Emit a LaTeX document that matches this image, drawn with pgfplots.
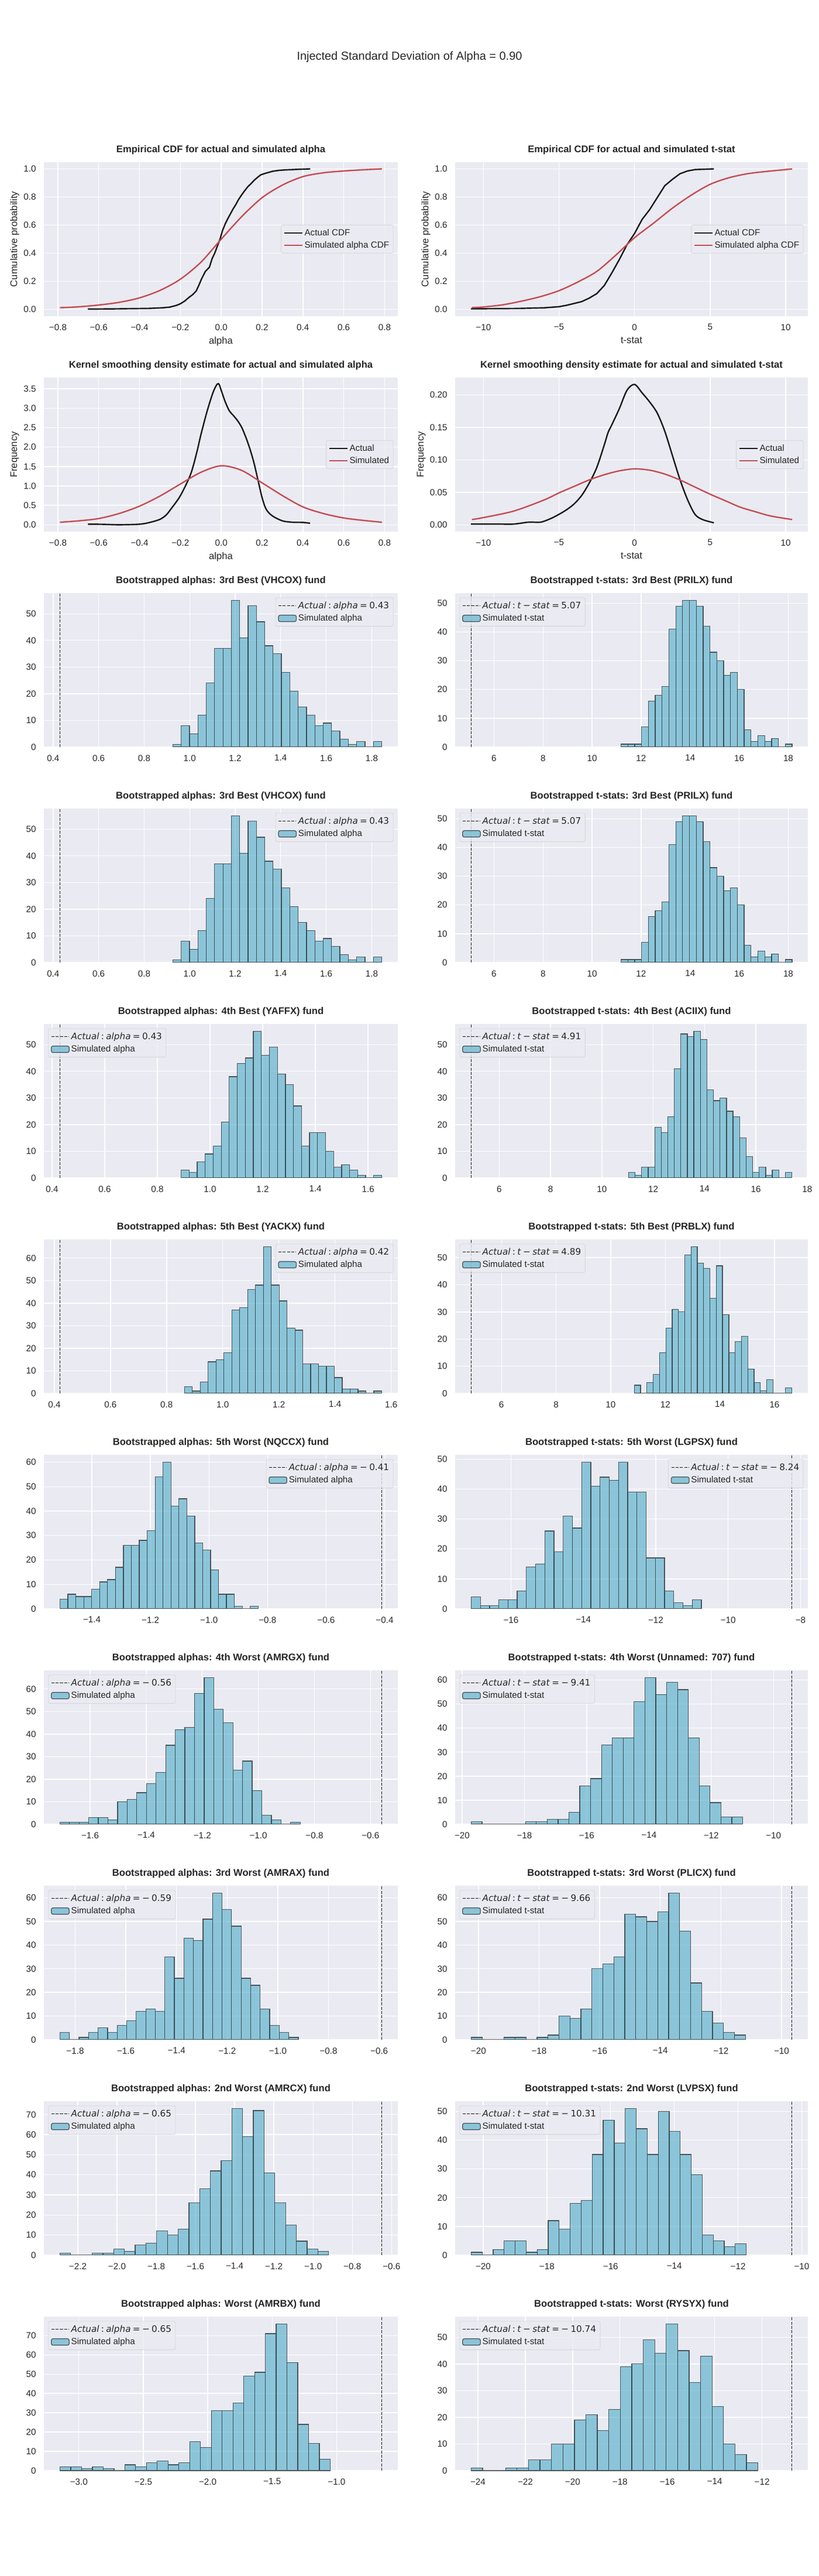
\documentclass[border=0pt]{standalone}
\usepackage{fontspec}
\setmainfont{Liberation Sans}
\newfontfamily\dejavu{DejaVu Sans}
\usepackage{pgfplots}
\pgfplotsset{compat=1.18}
\definecolor{bgc}{HTML}{EAEAF2}
\definecolor{txt}{HTML}{262626}
\definecolor{sred}{HTML}{C44E52}
\definecolor{sblk}{HTML}{1A1A1A}
\definecolor{hc}{HTML}{64B5CD}
\newcommand{\ms}{\hspace{0.22em}}
\newcommand{\actA}[1]{{\dejavu\textit{Actual}\ms:\ms\textit{alpha}\ms=\ms#1}}
\newcommand{\actT}[1]{{\dejavu\textit{Actual}\ms:\ms\textit{t}\ms−\ms\textit{stat}\ms=\ms#1}}
\pgfplotsset{
 sns/.style={
  scale only axis, anchor=north west,
  axis background/.style={fill=bgc},
  axis line style={draw=none},
  xmajorgrids, ymajorgrids,
  major grid style={draw=white, line width=1pt},
  major tick length=0pt, tick style={draw=none},
  tick label style={font=\fontsize{11}{13}\selectfont, text=txt},
  xticklabel style={inner sep=0pt, anchor=north, yshift=-9.5pt},
  yticklabel style={inner sep=0pt, anchor=east, xshift=-9.5pt},
  /pgf/number format/assume math mode=true,
  title style={font=\bfseries\fontsize{12}{14}\selectfont, text=txt, at={(0.5,1)}, anchor=base, yshift=6pt, inner sep=0pt},
  every axis x label/.style={at={(axis description cs:0.5,0)}, anchor=north, inner sep=0pt, yshift=-25.5pt, font=\fontsize{12}{14}\selectfont, text=txt},
  legend style={font=\fontsize{11}{13}\selectfont, text=txt, draw=black!20, fill=bgc, fill opacity=0.8, text opacity=1, rounded corners=2pt, inner xsep=3pt, inner ysep=3pt, row sep=2pt},
  legend cell align=left,
  scaled ticks=false,
 },
 ylab/.style={every axis y label/.style={at={(axis description cs:0,0.5)}, xshift=-#1, rotate=90, anchor=center, inner sep=0pt, font=\fontsize{12}{14}\selectfont, text=txt}},
 L/.style={sns, width=6.05in, height=2.63in},
 R/.style={sns, width=6.03in, height=2.63in},
 legUR/.style={legend style={at={(1,1)}, anchor=north east, xshift=-5.5pt, yshift=-5.5pt}},
 legUL/.style={legend style={at={(0,1)}, anchor=north west, xshift=5.5pt, yshift=-5.5pt}},
 legCR/.style={legend style={at={(1,0.5)}, anchor=east, xshift=-5.5pt}},
 lineleg/.style={legend image code/.code={\draw[##1] (0pt,0pt) -- (22pt,0pt);}},
 arealeg/.style={legend image code/.code={\draw[##1] (0pt,-4pt) rectangle (22pt,4pt);}},
 hbar/.style={ybar interval, fill=hc, fill opacity=0.7, draw=black, draw opacity=0.6, line width=0.9pt, arealeg},
 vl/.style={sblk, line width=1pt, dash pattern=on 3.7pt off 1.6pt, lineleg},
 ln/.style={line width=1.75pt, lineleg, no markers},
}
\begin{document}
\begin{tikzpicture}
\path[use as bounding box] (0,0) rectangle (14in,44in);
\node[anchor=north, inner sep=0pt, font=\fontsize{14.4}{17}\selectfont, text=txt] at (7in,43.12in) {Injected Standard Deviation of Alpha = 0.90};

% ---------- Row 1 ----------
\begin{axis}[L, ylab=36pt, at={(0.75in,41.23in)}, title={Empirical CDF for actual and simulated alpha},
 xlabel={alpha}, ylabel={Cumulative probability},
 xmin=-0.8686, xmax=0.8647, ymin=-0.048, ymax=1.048,
 xtick={-0.8,-0.6,-0.4,-0.2,0,0.2,0.4,0.6,0.8}, xticklabels={−0.8,−0.6,−0.4,−0.2,0.0,0.2,0.4,0.6,0.8},
 ytick={0,0.2,0.4,0.6,0.8,1}, yticklabels={0.0,0.2,0.4,0.6,0.8,1.0}, legCR]
\addplot[ln, sblk] coordinates {(-0.653,0.002) (-0.5,0.004) (-0.4,0.006) (-0.356,0.007) (-0.29,0.011) (-0.252,0.016) (-0.22,0.028) (-0.2,0.04) (-0.18,0.058) (-0.16,0.083) (-0.14,0.105) (-0.123,0.13) (-0.11,0.17) (-0.097,0.215) (-0.078,0.27) (-0.058,0.30) (-0.045,0.36) (-0.032,0.40) (-0.019,0.45) (-0.006,0.50) (0.006,0.56) (0.02,0.61) (0.032,0.645) (0.045,0.68) (0.058,0.715) (0.071,0.745) (0.084,0.78) (0.1,0.815) (0.115,0.845) (0.13,0.873) (0.146,0.895) (0.162,0.92) (0.178,0.94) (0.194,0.958) (0.22,0.97) (0.252,0.983) (0.285,0.99) (0.317,0.993) (0.38,0.997) (0.436,1.0)};
\addlegendentry{Actual CDF}
\addplot[ln, sred, smooth] coordinates {(-0.79,0.012) (-0.7,0.018) (-0.6,0.031) (-0.5,0.05) (-0.4,0.082) (-0.3,0.135) (-0.2,0.215) (-0.1,0.335) (0,0.5) (0.1,0.66) (0.2,0.795) (0.3,0.885) (0.4,0.945) (0.5,0.972) (0.6,0.985) (0.7,0.994) (0.787,1.0)};
\addlegendentry{Simulated alpha CDF}
\end{axis}

\begin{axis}[R, ylab=36pt, at={(7.78in,41.23in)}, title={Empirical CDF for actual and simulated t-stat},
 xlabel={t-stat}, ylabel={Cumulative probability},
 xmin=-11.87, xmax=11.47, ymin=-0.048, ymax=1.048,
 xtick={-10,-5,0,5,10}, xticklabels={−10,−5,0,5,10},
 ytick={0,0.2,0.4,0.6,0.8,1}, yticklabels={0.0,0.2,0.4,0.6,0.8,1.0}, legCR]
\addplot[ln, sblk] coordinates {(-10.83,0.004) (-8,0.006) (-6,0.011) (-5,0.019) (-4.5,0.029) (-4,0.042) (-3.5,0.055) (-3,0.08) (-2.5,0.112) (-2,0.17) (-1.5,0.26) (-1,0.356) (-0.5,0.46) (0,0.54) (0.5,0.64) (1,0.71) (1.5,0.795) (2,0.88) (2.5,0.925) (3,0.965) (3.5,0.985) (4,0.995) (5.25,1.0)};
\addlegendentry{Actual CDF}
\addplot[ln, sred, smooth] coordinates {(-10.76,0.013) (-10,0.017) (-8.75,0.032) (-7.5,0.058) (-6.25,0.09) (-5,0.133) (-3.75,0.195) (-2.5,0.27) (-1.25,0.385) (0,0.51) (1.25,0.613) (2.5,0.72) (3.75,0.813) (5,0.89) (6.25,0.937) (7.5,0.966) (8.75,0.982) (10,0.995) (10.43,1.0)};
\addlegendentry{Simulated alpha CDF}
\end{axis}

% ---------- Row 2 ----------
\begin{axis}[L, ylab=36pt, at={(0.75in,37.55in)}, title={Kernel smoothing density estimate for actual and simulated alpha},
 xlabel={alpha}, ylabel={Frequency},
 xmin=-0.8686, xmax=0.8647, ymin=-0.175, ymax=3.79,
 xtick={-0.8,-0.6,-0.4,-0.2,0,0.2,0.4,0.6,0.8}, xticklabels={−0.8,−0.6,−0.4,−0.2,0.0,0.2,0.4,0.6,0.8},
 ytick={0,0.5,1,1.5,2,2.5,3,3.5}, yticklabels={0.0,0.5,1.0,1.5,2.0,2.5,3.0,3.5}, legCR]
\addplot[ln, sblk, smooth] coordinates {(-0.653,0.015) (-0.58,0.012) (-0.5,0.0) (-0.4,0.015) (-0.35,0.06) (-0.3,0.14) (-0.27,0.25) (-0.25,0.38) (-0.2,0.75) (-0.15,1.30) (-0.12,1.86) (-0.1,2.31) (-0.07,2.91) (-0.04,3.41) (-0.02,3.62) (-0.01,3.61) (0.0,3.46) (0.02,3.16) (0.04,2.93) (0.06,2.81) (0.08,2.68) (0.1,2.51) (0.12,2.26) (0.14,1.96) (0.16,1.60) (0.18,1.15) (0.2,0.70) (0.22,0.40) (0.25,0.23) (0.3,0.10) (0.35,0.065) (0.4,0.06) (0.435,0.04)};
\addlegendentry{Actual}
\addplot[ln, sred, smooth] coordinates {(-0.79,0.065) (-0.7,0.10) (-0.6,0.16) (-0.5,0.29) (-0.4,0.48) (-0.3,0.74) (-0.2,1.05) (-0.1,1.35) (0,1.52) (0.1,1.40) (0.2,1.08) (0.3,0.75) (0.4,0.46) (0.5,0.29) (0.6,0.175) (0.7,0.11) (0.787,0.065)};
\addlegendentry{Simulated}
\end{axis}

\begin{axis}[R, ylab=41.8pt, at={(7.78in,37.55in)}, title={Kernel smoothing density estimate for actual and simulated t-stat},
 xlabel={t-stat}, ylabel={Frequency},
 xmin=-11.87, xmax=11.47, ymin=-0.0105, ymax=0.2265,
 xtick={-10,-5,0,5,10}, xticklabels={−10,−5,0,5,10},
 ytick={0,0.05,0.1,0.15,0.2}, yticklabels={0.00,0.05,0.10,0.15,0.20}, legCR]
\addplot[ln, sblk, smooth] coordinates {(-10.83,0.001) (-9,0.001) (-8,0.001) (-7,0.004) (-6.2,0.004) (-5.5,0.010) (-5,0.016) (-4.5,0.023) (-4,0.032) (-3.5,0.045) (-3,0.064) (-2.5,0.088) (-2,0.123) (-1.75,0.142) (-1.5,0.154) (-1,0.179) (-0.5,0.207) (0,0.216) (0.5,0.203) (1,0.189) (1.5,0.172) (2,0.144) (2.5,0.107) (3,0.070) (3.5,0.039) (4,0.016) (4.5,0.008) (5.25,0.003)};
\addlegendentry{Actual}
\addplot[ln, sred, smooth] coordinates {(-10.76,0.008) (-10,0.011) (-8,0.021) (-6,0.038) (-5,0.049) (-4,0.059) (-3,0.069) (-2,0.077) (-1,0.083) (0,0.086) (1,0.084) (2,0.078) (3,0.069) (4,0.058) (5,0.047) (6,0.037) (7,0.027) (8,0.020) (9,0.0135) (10.43,0.008)};
\addlegendentry{Simulated}
\end{axis}

% ---------- Row 3 ----------
\begin{axis}[L, at={(0.75in,33.87in)}, title={Bootstrapped alphas: 3rd Best (VHCOX) fund},
 xmin=0.3593, xmax=1.9147, ymin=0, ymax=57.75,
 xtick={0.4,0.6,0.8,1.0,1.2,1.4,1.6,1.8}, xticklabels={0.4,0.6,0.8,1.0,1.2,1.4,1.6,1.8},
 ytick={0,10,20,30,40,50}, legUR]
\addplot[vl] coordinates {(0.43,0) (0.43,57.75)}; \addlegendentry{\actA{0.43}}
\addplot[hbar] table[header=false, row sep=\\, y index=0, x expr={0.926+\coordindex*0.03672}] {1\\8\\5\\12\\24\\37\\37\\55\\41\\53\\47\\38\\35\\28\\21\\15\\12\\8\\9\\6\\3\\1\\2\\0\\2\\0\\};
\addlegendentry{Simulated alpha}
\end{axis}

\begin{axis}[R, at={(7.78in,33.87in)}, title={Bootstrapped t-stats: 3rd Best (PRILX) fund},
 xmin=4.416, xmax=18.80, ymin=0, ymax=53.55,
 xtick={6,8,10,12,14,16,18}, ytick={0,10,20,30,40,50}, legUL]
\addplot[vl] coordinates {(5.07,0) (5.07,53.55)}; \addlegendentry{\actT{5.07}}
\addplot[hbar] table[header=false, row sep=\\, y index=0, x expr={11.18+\coordindex*0.279}] {1\\1\\1\\7\\16\\18\\21\\41\\49\\51\\51\\49\\42\\33\\30\\25\\26\\20\\6\\2\\4\\2\\3\\0\\1\\0\\};
\addlegendentry{Simulated t-stat}
\end{axis}

% ---------- Row 4 ----------
\begin{axis}[L, at={(0.75in,30.19in)}, title={Bootstrapped alphas: 3rd Best (VHCOX) fund},
 xmin=0.3593, xmax=1.9147, ymin=0, ymax=57.75,
 xtick={0.4,0.6,0.8,1.0,1.2,1.4,1.6,1.8}, xticklabels={0.4,0.6,0.8,1.0,1.2,1.4,1.6,1.8},
 ytick={0,10,20,30,40,50}, legUR]
\addplot[vl] coordinates {(0.43,0) (0.43,57.75)}; \addlegendentry{\actA{0.43}}
\addplot[hbar] table[header=false, row sep=\\, y index=0, x expr={0.926+\coordindex*0.03672}] {1\\8\\5\\12\\24\\37\\37\\55\\41\\53\\47\\38\\35\\28\\21\\15\\12\\8\\9\\6\\3\\1\\2\\0\\2\\0\\};
\addlegendentry{Simulated alpha}
\end{axis}

\begin{axis}[R, at={(7.78in,30.19in)}, title={Bootstrapped t-stats: 3rd Best (PRILX) fund},
 xmin=4.416, xmax=18.80, ymin=0, ymax=53.55,
 xtick={6,8,10,12,14,16,18}, ytick={0,10,20,30,40,50}, legUL]
\addplot[vl] coordinates {(5.07,0) (5.07,53.55)}; \addlegendentry{\actT{5.07}}
\addplot[hbar] table[header=false, row sep=\\, y index=0, x expr={11.18+\coordindex*0.279}] {1\\1\\1\\7\\16\\18\\21\\41\\49\\51\\51\\49\\42\\33\\30\\25\\26\\20\\6\\2\\4\\2\\3\\0\\1\\0\\};
\addlegendentry{Simulated t-stat}
\end{axis}

% ---------- Row 5 ----------
\begin{axis}[L, at={(0.75in,26.51in)}, title={Bootstrapped alphas: 4th Best (YAFFX) fund},
 xmin=0.369, xmax=1.713, ymin=0, ymax=57.75,
 xtick={0.4,0.6,0.8,1.0,1.2,1.4,1.6}, xticklabels={0.4,0.6,0.8,1.0,1.2,1.4,1.6},
 ytick={0,10,20,30,40,50}, legUL]
\addplot[vl] coordinates {(0.43,0) (0.43,57.75)}; \addlegendentry{\actA{0.43}}
\addplot[hbar] table[header=false, row sep=\\, y index=0, x expr={0.89+\coordindex*0.03048}] {3\\2\\6\\9\\12\\21\\38\\43\\45\\55\\46\\49\\39\\35\\27\\12\\17\\17\\10\\4\\5\\3\\1\\0\\1\\0\\};
\addlegendentry{Simulated alpha}
\end{axis}

\begin{axis}[R, at={(7.78in,26.51in)}, title={Bootstrapped t-stats: 4th Best (ACIIX) fund},
 xmin=4.2855, xmax=18.0245, ymin=0, ymax=57.75,
 xtick={6,8,10,12,14,16,18}, ytick={0,10,20,30,40,50}, legUL]
\addplot[vl] coordinates {(4.91,0) (4.91,57.75)}; \addlegendentry{\actT{4.91}}
\addplot[hbar] table[header=false, row sep=\\, y index=0, x expr={11.04+\coordindex*0.2544}] {2\\1\\4\\4\\19\\17\\23\\41\\54\\53\\55\\52\\33\\29\\30\\25\\23\\15\\8\\2\\4\\1\\3\\0\\2\\0\\};
\addlegendentry{Simulated t-stat}
\end{axis}

% ---------- Row 6 ----------
\begin{axis}[L, at={(0.75in,22.83in)}, title={Bootstrapped alphas: 5th Best (YACKX) fund},
 xmin=0.3627, xmax=1.6237, ymin=0, ymax=68.25,
 xtick={0.4,0.6,0.8,1.0,1.2,1.4,1.6}, xticklabels={0.4,0.6,0.8,1.0,1.2,1.4,1.6},
 ytick={0,10,20,30,40,50,60}, legUR]
\addplot[vl] coordinates {(0.42,0) (0.42,68.25)}; \addlegendentry{\actA{0.42}}
\addplot[hbar] table[header=false, row sep=\\, y index=0, x expr={0.8636+\coordindex*0.02811}] {3\\1\\5\\14\\15\\18\\37\\38\\46\\48\\65\\48\\41\\29\\28\\13\\13\\12\\12\\7\\2\\2\\1\\0\\1\\0\\};
\addlegendentry{Simulated alpha}
\end{axis}

\begin{axis}[R, at={(7.78in,22.83in)}, title={Bootstrapped t-stats: 5th Best (PRBLX) fund},
 xmin=4.303, xmax=17.222, ymin=0, ymax=56.7,
 xtick={6,8,10,12,14,16}, ytick={0,10,20,30,40,50}, legUL]
\addplot[vl] coordinates {(4.89,0) (4.89,56.7)}; \addlegendentry{\actT{4.89}}
\addplot[hbar] table[header=false, row sep=\\, y index=0, x expr={10.865+\coordindex*0.2308}] {3\\0\\4\\7\\15\\24\\31\\30\\51\\54\\48\\46\\35\\47\\29\\15\\19\\21\\9\\4\\1\\5\\0\\0\\2\\0\\};
\addlegendentry{Simulated t-stat}
\end{axis}

% ---------- Row 7 ----------
\begin{axis}[L, at={(0.75in,19.15in)}, title={Bootstrapped alphas: 5th Worst (NQCCX) fund},
 xmin=-1.564, xmax=-0.355, ymin=0, ymax=63,
 xtick={-1.4,-1.2,-1.0,-0.8,-0.6,-0.4}, xticklabels={−1.4,−1.2,−1.0,−0.8,−0.6,−0.4},
 ytick={0,10,20,30,40,50,60}, legUR]
\addplot[vl] coordinates {(-0.41,0) (-0.41,63)}; \addlegendentry{\actA{−\ms0.41}}
\addplot[hbar] table[header=false, row sep=\\, y index=0, x expr={-1.509+\coordindex*0.02708}] {4\\6\\5\\5\\8\\11\\12\\17\\26\\26\\28\\32\\54\\60\\42\\45\\38\\27\\24\\16\\6\\6\\1\\0\\1\\0\\};
\addlegendentry{Simulated alpha}
\end{axis}

\begin{axis}[R, at={(7.78in,19.15in)}, title={Bootstrapped t-stats: 5th Worst (LGPSX) fund},
 xmin=-17.543, xmax=-7.797, ymin=0, ymax=51.45,
 xtick={-16,-14,-12,-10,-8}, xticklabels={−16,−14,−12,−10,−8},
 ytick={0,10,20,30,40,50}, legUR]
\addplot[vl] coordinates {(-8.24,0) (-8.24,51.45)}; \addlegendentry{\actT{−\ms8.24}}
\addplot[hbar] table[header=false, row sep=\\, y index=0, x expr={-17.10+\coordindex*0.2544}] {4\\1\\1\\3\\3\\6\\14\\15\\26\\19\\31\\27\\49\\41\\44\\43\\49\\39\\39\\17\\17\\6\\2\\1\\3\\0\\};
\addlegendentry{Simulated t-stat}
\end{axis}

% ---------- Row 8 ----------
\begin{axis}[L, at={(0.75in,15.47in)}, title={Bootstrapped alphas: 4th Worst (AMRGX) fund},
 xmin=-1.765, xmax=-0.5026, ymin=0, ymax=68.25,
 xtick={-1.6,-1.4,-1.2,-1.0,-0.8,-0.6}, xticklabels={−1.6,−1.4,−1.2,−1.0,−0.8,−0.6},
 ytick={0,10,20,30,40,50,60}, legUL]
\addplot[vl] coordinates {(-0.56,0) (-0.56,68.25)}; \addlegendentry{\actA{−\ms0.56}}
\addplot[hbar] table[header=false, row sep=\\, y index=0, x expr={-1.708+\coordindex*0.0343}] {1\\1\\1\\3\\3\\2\\10\\11\\14\\18\\23\\35\\42\\43\\58\\65\\51\\45\\24\\28\\15\\4\\2\\0\\1\\0\\};
\addlegendentry{Simulated alpha}
\end{axis}

\begin{axis}[R, at={(7.78in,15.47in)}, title={Bootstrapped t-stats: 4th Worst (Unnamed: 707) fund},
 xmin=-20.225, xmax=-8.895, ymin=0, ymax=64.05,
 xtick={-20,-18,-16,-14,-12,-10}, xticklabels={−20,−18,−16,−14,−12,−10},
 ytick={0,10,20,30,40,50,60}, legUL]
\addplot[vl] coordinates {(-9.41,0) (-9.41,64.05)}; \addlegendentry{\actT{−\ms9.41}}
\addplot[hbar] table[header=false, row sep=\\, y index=0, x expr={-19.71+\coordindex*0.3488}] {1\\0\\0\\0\\0\\1\\1\\2\\2\\5\\16\\19\\33\\36\\36\\51\\61\\54\\59\\56\\36\\16\\9\\3\\3\\0\\};
\addlegendentry{Simulated t-stat}
\end{axis}

% ---------- Row 9 ----------
\begin{axis}[L, at={(0.75in,11.79in)}, title={Bootstrapped alphas: 3rd Worst (AMRAX) fund},
 xmin=-1.9235, xmax=-0.5265, ymin=0, ymax=65.1,
 xtick={-1.8,-1.6,-1.4,-1.2,-1.0,-0.8,-0.6}, xticklabels={−1.8,−1.6,−1.4,−1.2,−1.0,−0.8,−0.6},
 ytick={0,10,20,30,40,50,60}, legUL]
\addplot[vl] coordinates {(-0.59,0) (-0.59,65.1)}; \addlegendentry{\actA{−\ms0.59}}
\addplot[hbar] table[header=false, row sep=\\, y index=0, x expr={-1.860+\coordindex*0.03763}] {3\\0\\1\\3\\5\\3\\6\\8\\12\\13\\12\\35\\26\\43\\42\\51\\62\\55\\48\\26\\23\\13\\6\\3\\1\\0\\};
\addlegendentry{Simulated alpha}
\end{axis}

\begin{axis}[R, at={(7.78in,11.79in)}, title={Bootstrapped t-stats: 3rd Worst (PLICX) fund},
 xmin=-20.769, xmax=-9.131, ymin=0, ymax=65.1,
 xtick={-20,-18,-16,-14,-12,-10}, xticklabels={−20,−18,−16,−14,−12,−10},
 ytick={0,10,20,30,40,50,60}, legUL]
\addplot[vl] coordinates {(-9.66,0) (-9.66,65.1)}; \addlegendentry{\actT{−\ms9.66}}
\addplot[hbar] table[header=false, row sep=\\, y index=0, x expr={-20.24+\coordindex*0.362}] {1\\0\\0\\1\\1\\0\\1\\2\\10\\9\\13\\30\\32\\35\\53\\52\\50\\54\\62\\46\\24\\12\\7\\3\\2\\0\\};
\addlegendentry{Simulated t-stat}
\end{axis}

% ---------- Row 10 ----------
\begin{axis}[L, at={(0.75in,8.11in)}, title={Bootstrapped alphas: 2nd Worst (AMRCX) fund},
 xmin=-2.373, xmax=-0.568, ymin=0, ymax=76.65,
 xtick={-2.2,-2.0,-1.8,-1.6,-1.4,-1.2,-1.0,-0.8,-0.6}, xticklabels={−2.2,−2.0,−1.8,−1.6,−1.4,−1.2,−1.0,−0.8,−0.6},
 ytick={0,10,20,30,40,50,60,70}, legUL]
\addplot[vl] coordinates {(-0.65,0) (-0.65,76.65)}; \addlegendentry{\actA{−\ms0.65}}
\addplot[hbar] table[header=false, row sep=\\, y index=0, x expr={-2.291+\coordindex*0.0548}] {1\\0\\0\\1\\1\\3\\2\\5\\6\\12\\10\\13\\26\\33\\42\\47\\73\\59\\72\\41\\26\\15\\7\\3\\2\\0\\};
\addlegendentry{Simulated alpha}
\end{axis}

\begin{axis}[R, at={(7.78in,8.11in)}, title={Bootstrapped t-stats: 2nd Worst (LVPSX) fund},
 xmin=-20.881, xmax=-9.807, ymin=0, ymax=53.55,
 xtick={-20,-18,-16,-14,-12,-10}, xticklabels={−20,−18,−16,−14,−12,−10},
 ytick={0,10,20,30,40,50}, legUL]
\addplot[vl] coordinates {(-10.31,0) (-10.31,53.55)}; \addlegendentry{\actT{−\ms10.31}}
\addplot[hbar] table[header=false, row sep=\\, y index=0, x expr={-20.378+\coordindex*0.3454}] {1\\0\\2\\5\\5\\1\\2\\12\\9\\18\\19\\35\\47\\39\\51\\44\\35\\50\\43\\35\\28\\7\\5\\3\\4\\0\\};
\addlegendentry{Simulated t-stat}
\end{axis}

% ---------- Row 11 ----------
\begin{axis}[L, at={(0.75in,4.43in)}, title={Bootstrapped alphas: Worst (AMRBX) fund},
 xmin=-3.2714, xmax=-0.5252, ymin=0, ymax=79.8,
 xtick={-3.0,-2.5,-2.0,-1.5,-1.0}, xticklabels={−3.0,−2.5,−2.0,−1.5,−1.0},
 ytick={0,10,20,30,40,50,60,70}, legUL]
\addplot[vl] coordinates {(-0.65,0) (-0.65,79.8)}; \addlegendentry{\actA{−\ms0.65}}
\addplot[hbar] table[header=false, row sep=\\, y index=0, x expr={-3.1466+\coordindex*0.08388}] {2\\2\\1\\2\\1\\0\\3\\2\\4\\5\\3\\4\\15\\12\\31\\31\\35\\49\\51\\71\\76\\56\\24\\14\\6\\0\\};
\addlegendentry{Simulated alpha}
\end{axis}

\begin{axis}[R, at={(7.78in,4.43in)}, title={Bootstrapped t-stats: Worst (RYSYX) fund},
 xmin=-24.963, xmax=-10.063, ymin=0, ymax=57.75,
 xtick={-24,-22,-20,-18,-16,-14,-12}, xticklabels={−24,−22,−20,−18,−16,−14,−12},
 ytick={0,10,20,30,40,50}, legUL]
\addplot[vl] coordinates {(-10.74,0) (-10.74,57.75)}; \addlegendentry{\actT{−\ms10.74}}
\addplot[hbar] table[header=false, row sep=\\, y index=0, x expr={-24.286+\coordindex*0.48456}] {1\\0\\0\\1\\1\\4\\4\\10\\10\\19\\21\\15\\23\\39\\40\\49\\44\\55\\45\\33\\43\\24\\10\\6\\3\\0\\};
\addlegendentry{Simulated t-stat}
\end{axis}
\end{tikzpicture}
\end{document}
